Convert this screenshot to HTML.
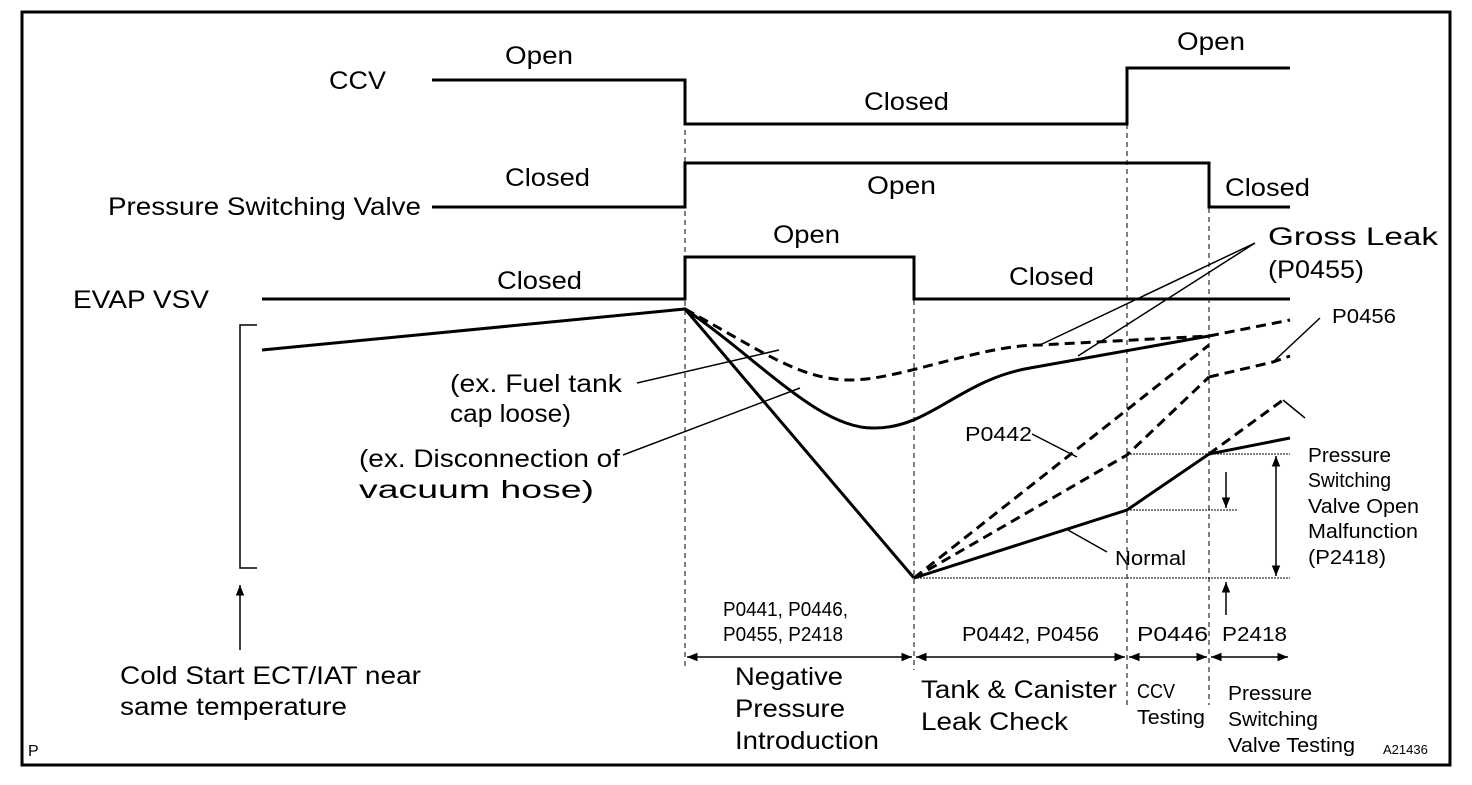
<!DOCTYPE html>
<html><head><style>
body{margin:0;background:#fff}
svg text{font-family:"Liberation Sans",Arial,sans-serif;fill:#000}
</style></head><body>
<svg width="1472" height="780" viewBox="0 0 1472 780" xmlns="http://www.w3.org/2000/svg">
<defs>
<marker id="a" viewBox="0 0 10 10" refX="10" refY="5" markerWidth="7" markerHeight="7" orient="auto-start-reverse"><path d="M0,1 L10,5 L0,9 z" fill="#000"/></marker>
</defs>
<rect x="22" y="12" width="1428" height="753" fill="none" stroke="#000" stroke-width="3"/>
<g stroke="#000" fill="none">
<path d="M432,80 H685 V124 H1127 V68 H1290" stroke-width="3"/>
<path d="M432,207 H685 V163 H1209 V207 H1290" stroke-width="3"/>
<path d="M262,299 H685 V257 H914 V299 H1290" stroke-width="3"/>
<g stroke-width="1" stroke-dasharray="5,4">
<path d="M685,130 V670"/><path d="M914,300 V670"/><path d="M1127,70 V705"/><path d="M1209,208 V705"/>
</g>
<path d="M262,350 L685,309 L914,578" stroke-width="3"/>
<path d="M685,309 C760,360 820,430 875,428 C930,428 960,380 1030,368 L1209,336" stroke-width="3"/>
<path d="M685,309 C760,350 800,380 850,380 C900,380 980,345 1040,345 L1209,336" stroke-width="3" stroke-dasharray="10,6"/>
<path d="M1209,377 L1273,362 L1290,356" stroke-width="3" stroke-dasharray="10,6"/>
<path d="M1209,336 L1290,320" stroke-width="3" stroke-dasharray="10,6"/>
<path d="M914,578 L1209,345" stroke-width="3" stroke-dasharray="10,6"/>
<path d="M914,578 L1127,455 L1209,377" stroke-width="3" stroke-dasharray="10,6"/>
<path d="M914,578 L1127,510 L1209,454 L1290,438" stroke-width="3"/>
<path d="M1209,454 L1283,400" stroke-width="3" stroke-dasharray="10,6"/>
<g stroke-width="1.5">
<path d="M1255,243 L1040,345 M1255,243 L1078,356"/>
<path d="M1273,362 L1320,318"/>
<path d="M1283,400 L1305,418"/>
<path d="M1068,530 L1107,552"/>
<path d="M1032,434 L1077,457"/>
<path d="M637,383 L779,350"/>
<path d="M623,455 L800,388"/>
</g>
<g stroke-width="1" stroke-dasharray="2,1">
<path d="M914,578 H1290"/><path d="M1127,454 H1290"/><path d="M1127,510 H1237"/>
</g>
<path d="M1276,456 V576" stroke-width="1.5" marker-start="url(#a)" marker-end="url(#a)"/>
<path d="M1226,472 V508" stroke-width="1.5" marker-end="url(#a)"/>
<path d="M1226,615 V582" stroke-width="1.5" marker-end="url(#a)"/>
<path d="M240,650 V585" stroke-width="1.5" marker-end="url(#a)"/>
<path d="M257,325 H240 V568 H257" stroke-width="1.5"/>
<g stroke-width="1.5">
<path d="M687,657 H912" marker-start="url(#a)" marker-end="url(#a)"/>
<path d="M916,657 H1125" marker-start="url(#a)" marker-end="url(#a)"/>
<path d="M1129,657 H1207" marker-start="url(#a)" marker-end="url(#a)"/>
<path d="M1211,657 H1288" marker-start="url(#a)" marker-end="url(#a)"/>
</g>
</g>
<g font-size="25" lengthAdjust="spacingAndGlyphs">
<text x="329" y="89" textLength="57" lengthAdjust="spacingAndGlyphs">CCV</text>
<text x="505" y="64" textLength="68" lengthAdjust="spacingAndGlyphs">Open</text>
<text x="864" y="110" textLength="85" lengthAdjust="spacingAndGlyphs">Closed</text>
<text x="1177" y="50" textLength="68" lengthAdjust="spacingAndGlyphs">Open</text>
<text x="108" y="215" textLength="313" lengthAdjust="spacingAndGlyphs">Pressure Switching Valve</text>
<text x="505" y="186" textLength="85" lengthAdjust="spacingAndGlyphs">Closed</text>
<text x="867" y="194" textLength="69" lengthAdjust="spacingAndGlyphs">Open</text>
<text x="1225" y="196" textLength="85" lengthAdjust="spacingAndGlyphs">Closed</text>
<text x="73" y="308" textLength="136" lengthAdjust="spacingAndGlyphs">EVAP VSV</text>
<text x="497" y="289" textLength="85" lengthAdjust="spacingAndGlyphs">Closed</text>
<text x="773" y="243" textLength="67" lengthAdjust="spacingAndGlyphs">Open</text>
<text x="1009" y="285" textLength="85" lengthAdjust="spacingAndGlyphs">Closed</text>
<text x="1268" y="245" textLength="170" lengthAdjust="spacingAndGlyphs">Gross Leak</text>
<text x="1268" y="278" textLength="96" lengthAdjust="spacingAndGlyphs">(P0455)</text>
<text x="450" y="392" textLength="172" lengthAdjust="spacingAndGlyphs">(ex. Fuel tank</text>
<text x="450" y="422" textLength="121" lengthAdjust="spacingAndGlyphs">cap loose)</text>
<text x="359" y="467" textLength="261" lengthAdjust="spacingAndGlyphs">(ex. Disconnection of</text>
<text x="359" y="498" textLength="235" lengthAdjust="spacingAndGlyphs">vacuum hose)</text>
<text x="120" y="684" textLength="301" lengthAdjust="spacingAndGlyphs">Cold Start ECT/IAT near</text>
<text x="120" y="715" textLength="227" lengthAdjust="spacingAndGlyphs">same temperature</text>
<text x="735" y="685" textLength="108" lengthAdjust="spacingAndGlyphs">Negative</text>
<text x="735" y="717" textLength="110" lengthAdjust="spacingAndGlyphs">Pressure</text>
<text x="735" y="749" textLength="144" lengthAdjust="spacingAndGlyphs">Introduction</text>
<text x="921" y="698" textLength="196" lengthAdjust="spacingAndGlyphs">Tank &amp; Canister</text>
<text x="921" y="730" textLength="147" lengthAdjust="spacingAndGlyphs">Leak Check</text>
</g>
<g font-size="20">
<text x="1332" y="323" textLength="64" lengthAdjust="spacingAndGlyphs">P0456</text>
<text x="965" y="441" textLength="67" lengthAdjust="spacingAndGlyphs">P0442</text>
<text x="1115" y="565" textLength="71" lengthAdjust="spacingAndGlyphs">Normal</text>
<text x="723" y="616" textLength="125" lengthAdjust="spacingAndGlyphs">P0441, P0446,</text>
<text x="723" y="641" textLength="120" lengthAdjust="spacingAndGlyphs">P0455, P2418</text>
<text x="962" y="641" textLength="137" lengthAdjust="spacingAndGlyphs">P0442, P0456</text>
<text x="1137" y="641" textLength="71" lengthAdjust="spacingAndGlyphs">P0446</text>
<text x="1222" y="641" textLength="65" lengthAdjust="spacingAndGlyphs">P2418</text>
<text x="1137" y="698" textLength="38" lengthAdjust="spacingAndGlyphs">CCV</text>
<text x="1137" y="724" textLength="68" lengthAdjust="spacingAndGlyphs">Testing</text>
<text x="1228" y="700" textLength="84" lengthAdjust="spacingAndGlyphs">Pressure</text>
<text x="1228" y="726" textLength="90" lengthAdjust="spacingAndGlyphs">Switching</text>
<text x="1228" y="752" textLength="127" lengthAdjust="spacingAndGlyphs">Valve Testing</text>
<text x="1308" y="462" textLength="83" lengthAdjust="spacingAndGlyphs">Pressure</text>
<text x="1308" y="487" textLength="83" lengthAdjust="spacingAndGlyphs">Switching</text>
<text x="1308" y="513" textLength="111" lengthAdjust="spacingAndGlyphs">Valve Open</text>
<text x="1308" y="538" textLength="110" lengthAdjust="spacingAndGlyphs">Malfunction</text>
<text x="1308" y="564" textLength="78" lengthAdjust="spacingAndGlyphs">(P2418)</text>
</g>
<text x="28" y="756" font-size="16">P</text>
<text x="1383" y="754" font-size="13">A21436</text>
</svg>
</body></html>
